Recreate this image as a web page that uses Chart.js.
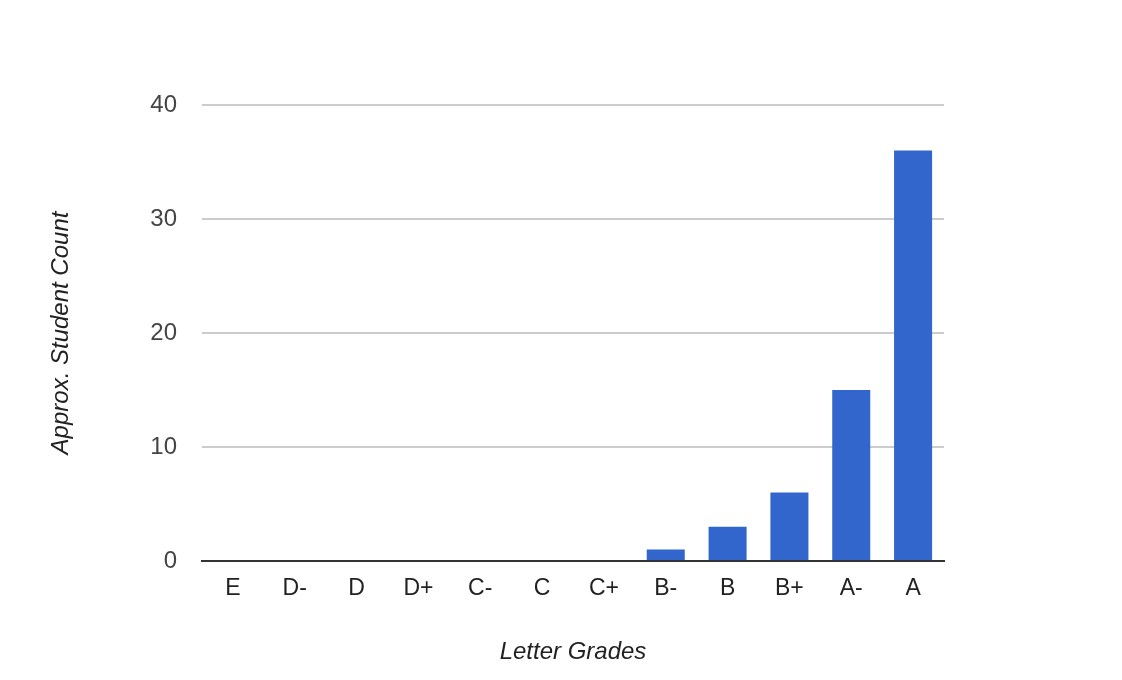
<!DOCTYPE html>
<html>
<head>
<meta charset="utf-8">
<script src="https://cdn.jsdelivr.net/npm/chart.js@4/dist/chart.umd.min.js"></script>
<style>
  html, body { margin: 0; padding: 0; background: #fff; }
  #wrap { width: 1122px; height: 680px; }
</style>
</head>
<body>
<div id="wrap"><canvas id="gradeChart" width="1122" height="680"></canvas></div>
<script>
// grade categories and approximate counts
const grades = ['E', 'D-', 'D', 'D+', 'C-', 'C', 'C+', 'B-', 'B', 'B+', 'A-', 'A'];
const studentCounts = [0, 0, 0, 0, 0, 0, 0, 1, 3, 6, 15, 36];
const yTicks = [0, 10, 20, 30, 40];

const fontFamily = '"Liberation Sans", Arial, Helvetica, sans-serif';

const ctx = document.getElementById('gradeChart');
const myChart = new Chart(ctx, {
  type: 'bar',
  data: {
    labels: grades,
    datasets: [{
      label: 'Approx. Student Count',
      data: studentCounts,
      backgroundColor: '#3366cc',
      borderWidth: 0,
      barPercentage: 0.615,
      categoryPercentage: 1
    }]
  },
  options: {
    responsive: false,
    devicePixelRatio: 1,
    animation: false,
    layout: {
      padding: { left: 0, right: 178, top: 105, bottom: 0 }
    },
    plugins: {
      legend: { display: false },
      tooltip: { enabled: false }
    },
    scales: {
      x: {
        afterFit: (scale) => { scale.height = 119; },
        grid: { display: false, drawTicks: false },
        border: { display: true, color: '#333333', width: 2 },
        ticks: {
          padding: 14,
          color: '#222222',
          font: { family: fontFamily, size: 23 }
        },
        title: {
          display: true,
          text: 'Letter Grades',
          color: '#222222',
          padding: { top: 0, bottom: 13 },
          font: { family: fontFamily, size: 24, style: 'italic' }
        }
      },
      y: {
        min: 0,
        max: 40,
        afterFit: (scale) => { scale.width = 202; },
        afterBuildTicks: (scale) => {
          scale.ticks = yTicks.map(v => ({ value: v }));
        },
        grid: {
          drawTicks: false,
          lineWidth: 2,
          color: (c) => (c.tick && c.tick.value === 0) ? 'rgba(0,0,0,0)' : '#cccccc'
        },
        border: { display: false },
        ticks: {
          padding: 25,
          color: '#444444',
          font: { family: fontFamily, size: 24 }
        },
        title: {
          display: true,
          text: 'Approx. Student Count',
          color: '#222222',
          padding: { top: 47, bottom: 0 },
          font: { family: fontFamily, size: 24, style: 'italic' }
        }
      }
    }
  }
});
</script>
</body>
</html>
